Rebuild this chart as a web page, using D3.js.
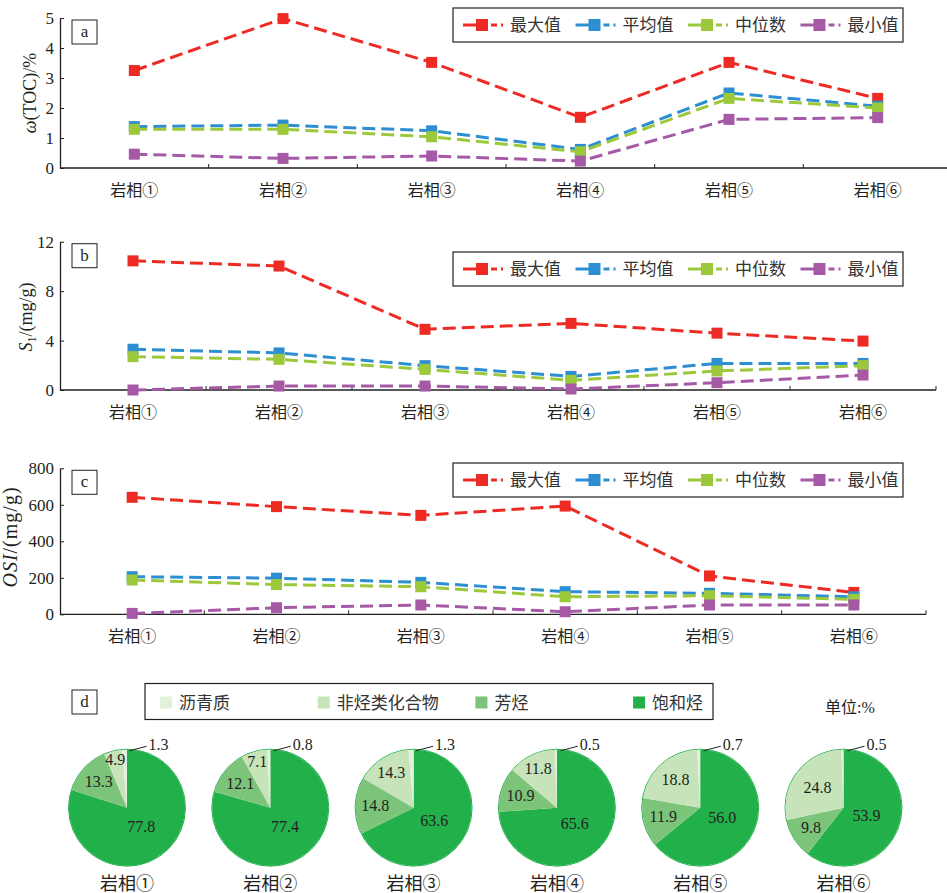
<!DOCTYPE html>
<html>
<head>
<meta charset="utf-8">
<script src="https://cdn.jsdelivr.net/npm/d3@7"></script>
<style>
body { margin: 0; background: #fff; }
svg { display: block; }
</style>
</head>
<body>
<div id="chart"></div>
<script>
var W = 947, H = 893;
var SERIF = '"Liberation Serif", "Times New Roman", "Noto Sans CJK SC", serif';
var CJK = '"Noto Sans CJK SC", sans-serif';
var INK = '#231f20';

var facies = ["岩相①", "岩相②", "岩相③", "岩相④", "岩相⑤", "岩相⑥"];
var seriesNames = ["最大值", "平均值", "中位数", "最小值"];
var seriesColors = ["#ee2a24", "#2d8fd1", "#9cc93c", "#a65aa5"];

// a: TOC, %
var tocMax = [3.25, 4.98, 3.52, 1.69, 3.52, 2.32];
var tocAvg = [1.38, 1.43, 1.24, 0.62, 2.5, 2.06];
var tocMed = [1.29, 1.29, 1.04, 0.54, 2.32, 2.0];
var tocMin = [0.46, 0.32, 0.4, 0.23, 1.62, 1.68];

// b: S1, mg/g
var s1Max = [10.45, 10.03, 4.91, 5.39, 4.6, 3.96];
var s1Avg = [3.3, 3.0, 1.97, 1.1, 2.15, 2.15];
var s1Med = [2.7, 2.48, 1.67, 0.78, 1.54, 1.97];
var s1Min = [0.0, 0.32, 0.32, 0.08, 0.59, 1.21];

// c: OSI, mg/g
var osiMax = [641, 590, 542, 593, 210, 120];
var osiAvg = [206, 198, 175, 124, 115, 96];
var osiMed = [188, 163, 151, 96, 102, 82];
var osiMin = [5, 36, 51, 14, 51, 51];

// d: group composition, %
var pieParts = ["沥青质", "非烃类化合物", "芳烃", "饱和烃"];
var pieColors = ["#e3f1dc", "#c7e3b9", "#7cc47a", "#22b04b"];
var asphaltene = [1.3, 0.8, 1.3, 0.5, 0.7, 0.5];
var nonHydro = [4.9, 7.1, 14.3, 11.8, 18.8, 24.8];
var aromatic = [13.3, 12.1, 14.8, 10.9, 11.9, 9.8];
var saturated = [77.8, 77.4, 63.6, 65.6, 56.0, 53.9];

var svg = d3.select('#chart').append('svg')
  .attr('width', W).attr('height', H)
  .attr('viewBox', '0 0 ' + W + ' ' + H);

function txt(sel, size, fam) {
  return sel.style('font-family', fam || SERIF).style('font-size', size + 'px').style('fill', INK);
}

var panels = [
  { tag: 'a', series: [tocMax, tocAvg, tocMed, tocMin], max: 5, ticks: [0,1,2,3,4,5],
    left: 60, right: 952, top: 18, bottom: 168, legendY: 8, titleX: 36, titleY: 93 },
  { tag: 'b', series: [s1Max, s1Avg, s1Med, s1Min], max: 12, ticks: [0,4,8,12],
    left: 60, right: 936, top: 241.7, bottom: 390, legendY: 252, titleX: 32, titleY: 317 },
  { tag: 'c', series: [osiMax, osiAvg, osiMed, osiMin], max: 800, ticks: [0,200,400,600,800],
    left: 60, right: 926, top: 468.3, bottom: 614.3, legendY: 463, titleX: 17, titleY: 537 }
];

panels.forEach(drawPanel);

function drawPanel(p) {
  var g = svg.append('g');
  var x = d3.scaleBand().domain(facies).range([p.left, p.right]).padding(0);
  var y = d3.scaleLinear().domain([0, p.max]).range([p.bottom, p.top]);

  // y axis, ticks inward
  var ya = g.append('g')
    .attr('transform', 'translate(' + p.left + ',0)')
    .call(d3.axisLeft(y).tickValues(p.ticks).tickFormat(d3.format('d'))
      .tickSizeInner(-4).tickSizeOuter(0).tickPadding(6));
  ya.select('.domain').attr('stroke', INK).attr('stroke-width', 1.3);
  ya.selectAll('.tick line').attr('stroke', INK);
  txt(ya.selectAll('.tick text'), 17);

  // x axis line + boundary ticks
  g.append('line').attr('x1', p.left).attr('x2', p.right)
    .attr('y1', p.bottom).attr('y2', p.bottom)
    .attr('stroke', INK).attr('stroke-width', 1.3);
  var bounds = facies.map(function(d) { return x(d) + x.bandwidth(); });
  g.selectAll('.xt').data(bounds).enter().append('line')
    .attr('x1', function(d) { return d; }).attr('x2', function(d) { return d; })
    .attr('y1', p.bottom).attr('y2', p.bottom - 4)
    .attr('stroke', INK).attr('stroke-width', 1);
  txt(g.selectAll('.xl').data(facies).enter().append('text')
    .attr('x', function(d) { return x(d) + x.bandwidth() / 2; })
    .attr('y', p.bottom + 28)
    .attr('text-anchor', 'middle')
    .text(function(d) { return d; }), 16);

  // series
  var line = d3.line()
    .x(function(d, i) { return x(facies[i]) + x.bandwidth() / 2; })
    .y(function(d) { return y(d); });
  p.series.forEach(function(s, k) {
    g.append('path').datum(s)
      .attr('d', line).attr('fill', 'none')
      .attr('stroke', seriesColors[k]).attr('stroke-width', 3)
      .attr('stroke-dasharray', '13,6');
    g.selectAll('.m' + k).data(s).enter().append('rect')
      .attr('x', function(d, i) { return x(facies[i]) + x.bandwidth() / 2 - 5.5; })
      .attr('y', function(d) { return y(d) - 5.5; })
      .attr('width', 11).attr('height', 11)
      .attr('fill', seriesColors[k]);
  });

  // panel tag
  g.append('rect').attr('x', 72).attr('y', p.top + 2).attr('width', 25).attr('height', 24)
    .attr('fill', '#fff').attr('stroke', INK).attr('stroke-width', 1);
  txt(g.append('text').attr('x', 84.5).attr('y', p.top + 19).attr('text-anchor', 'middle').text(p.tag), 17);

  // legend
  var lg = g.append('g').attr('transform', 'translate(453,' + p.legendY + ')');
  lg.append('rect').attr('width', 450).attr('height', 34)
    .attr('fill', '#fff').attr('stroke', INK).attr('stroke-width', 1.2);
  seriesNames.forEach(function(name, k) {
    var ox = 10 + k * 112.5;
    lg.append('line').attr('x1', ox).attr('x2', ox + 40).attr('y1', 17).attr('y2', 17)
      .attr('stroke', seriesColors[k]).attr('stroke-width', 3).attr('stroke-dasharray', '24,4,6,4');
    lg.append('rect').attr('x', ox + 13).attr('y', 11).attr('width', 12).attr('height', 12)
      .attr('fill', seriesColors[k]);
    txt(lg.append('text').attr('x', ox + 47).attr('y', 23).text(name), 17, CJK).style('fill', '#333');
  });

  // axis title
  var t = txt(g.append('text')
    .attr('transform', 'translate(' + p.titleX + ',' + p.titleY + ') rotate(-90)')
    .attr('text-anchor', 'middle'), p.tag === 'c' ? 20 : 18);
  if (p.tag === 'a') {
    t.append('tspan').style('font-style', 'italic').text('ω');
    t.append('tspan').text('(TOC)/%');
  } else if (p.tag === 'b') {
    t.append('tspan').style('font-style', 'italic').text('S');
    t.append('tspan').style('font-size', '12px').attr('dy', 4).text('1');
    t.append('tspan').attr('dy', -4).text('/(mg/g)');
  } else {
    t.style('letter-spacing', '1px');
    t.append('tspan').style('font-style', 'italic').text('OSI');
    t.append('tspan').text('/(mg/g)');
  }
}

// ---- d: pies ----
var pg = svg.append('g');
pg.append('rect').attr('x', 72).attr('y', 690).attr('width', 25).attr('height', 24)
  .attr('fill', '#fff').attr('stroke', INK).attr('stroke-width', 1);
txt(pg.append('text').attr('x', 84.5).attr('y', 707).attr('text-anchor', 'middle').text('d'), 17);

var plg = pg.append('g').attr('transform', 'translate(145,683.5)');
plg.append('rect').attr('width', 568).attr('height', 36)
  .attr('fill', '#fff').attr('stroke', INK).attr('stroke-width', 1.2);
pieParts.forEach(function(name, k) {
  var ox = 15 + k * 157.7;
  plg.append('rect').attr('x', ox).attr('y', 13).attr('width', 12).attr('height', 12)
    .attr('fill', pieColors[k]);
  txt(plg.append('text').attr('x', ox + 19).attr('y', 25.5).text(name), 17, CJK).style('fill', '#333');
});
txt(pg.append('text').attr('x', 850).attr('y', 713).attr('text-anchor', 'middle').text('单位:%'), 16);

var R = 58, cy = 807.7;
var px = d3.scalePoint().domain(facies).range([127, 843.5]);
var pie = d3.pie().sort(null).value(function(d) { return d.v; });
var arc = d3.arc().innerRadius(0).outerRadius(R);

facies.forEach(function(f, i) {
  var parts = [
    { v: saturated[i], c: pieColors[3], lr: 0.42 },
    { v: aromatic[i], c: pieColors[2], lr: 0.66 },
    { v: nonHydro[i], c: pieColors[1], lr: null },
    { v: asphaltene[i], c: pieColors[0], lr: null }
  ];
  var arcs = pie(parts);
  var cg = pg.append('g').attr('transform', 'translate(' + px(f) + ',' + cy + ')');
  cg.append('circle').attr('r', R + 0.5).attr('fill', 'none').attr('stroke', '#22b04b').attr('stroke-width', 1);
  cg.selectAll('path').data(arcs).enter().append('path')
    .attr('d', arc).attr('fill', function(d) { return d.data.c; });

  arcs.forEach(function(a, k) {
    var frac = (a.endAngle - a.startAngle) / (2 * Math.PI);
    var mid = (a.startAngle + a.endAngle) / 2;
    if (k < 3) {
      var lr = a.data.lr !== null ? a.data.lr : Math.max(0.55, 0.9 - frac * 1.2);
      txt(cg.append('text')
        .attr('x', Math.sin(mid) * R * lr)
        .attr('y', -Math.cos(mid) * R * lr + 5)
        .attr('text-anchor', 'middle')
        .text(a.data.v.toFixed(1)), 16);
    } else {
      var sx = Math.sin(mid) * R + 5, sy = -Math.cos(mid) * R + 1;
      cg.append('line').attr('x1', sx).attr('y1', sy).attr('x2', sx + 17).attr('y2', sy - 4.5)
        .attr('stroke', INK).attr('stroke-width', 1);
      txt(cg.append('text').attr('x', sx + 19).attr('y', sy - 1)
        .text(a.data.v.toFixed(1)), 16);
    }
  });

  txt(pg.append('text').attr('x', px(f)).attr('y', cy + 82)
    .attr('text-anchor', 'middle').text(f), 18);
});
</script>
</body>
</html>
